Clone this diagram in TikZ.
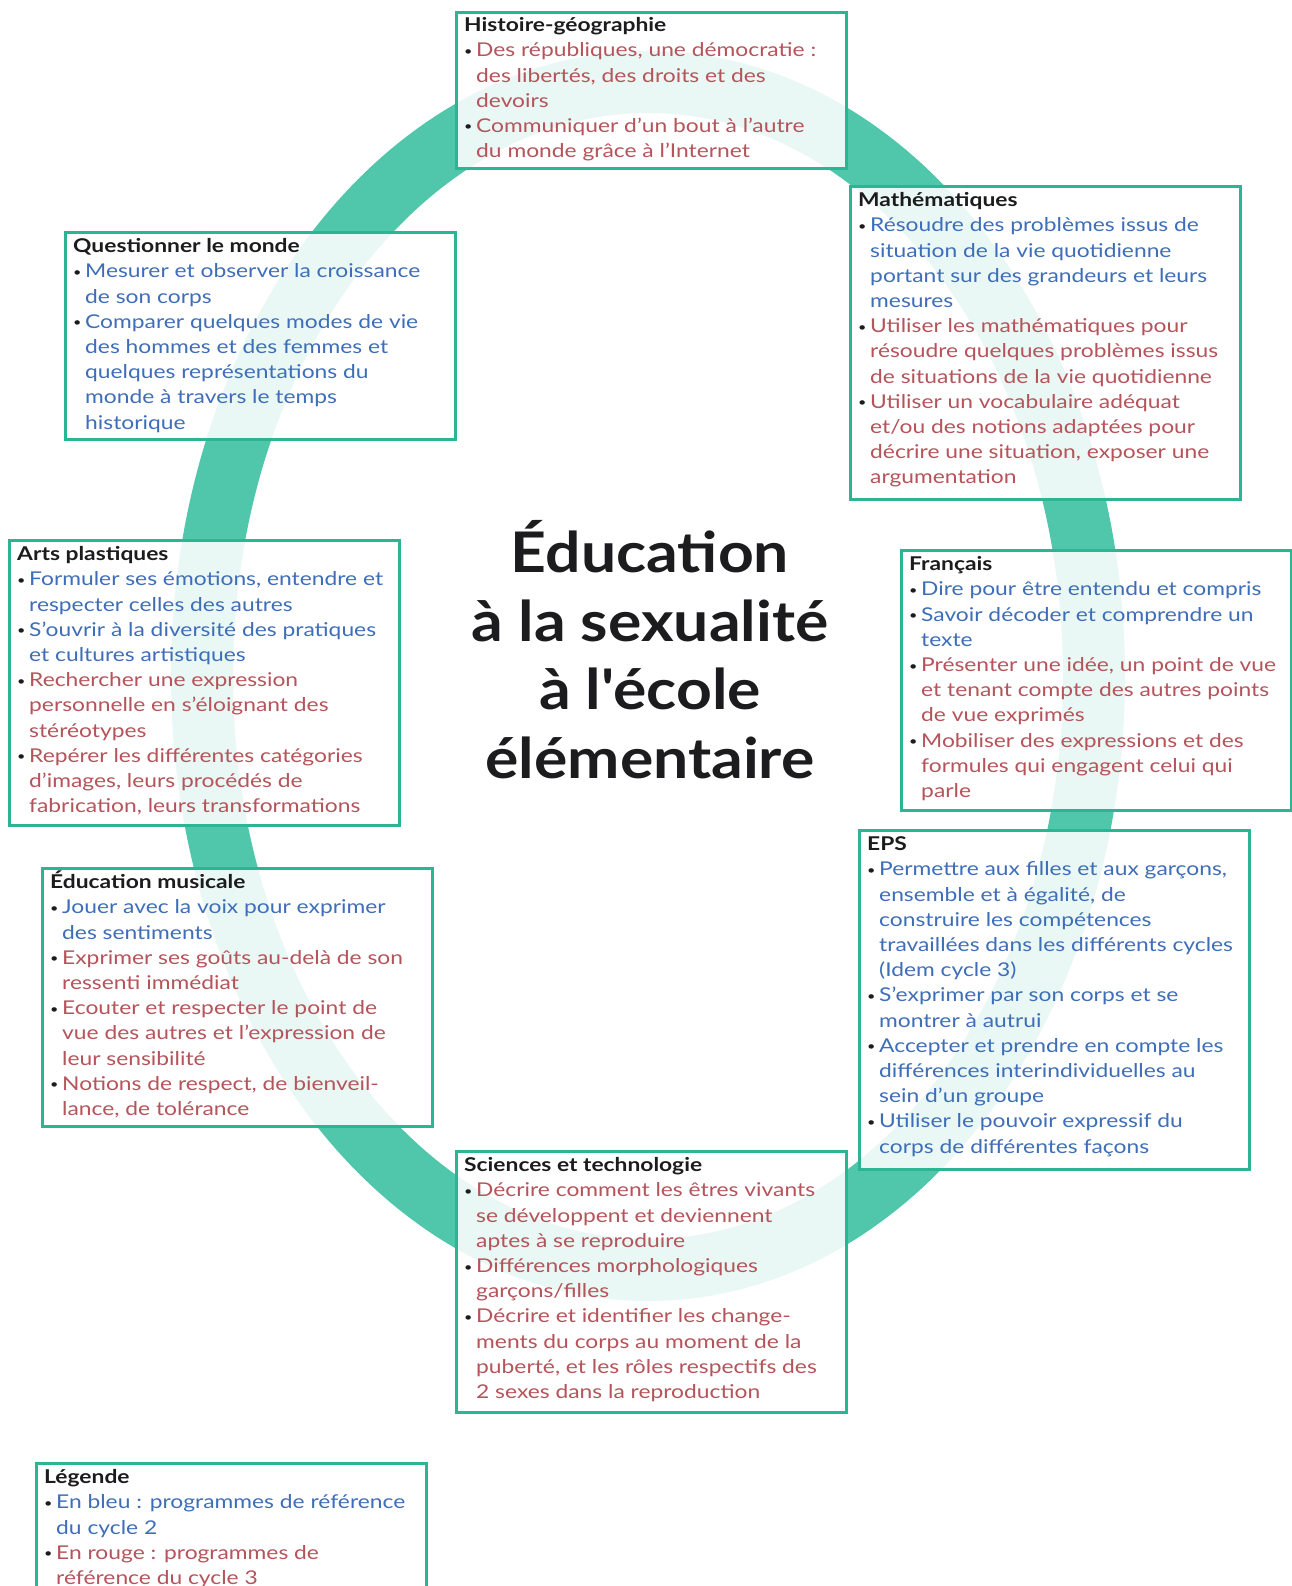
\documentclass[tikz,border=0pt]{standalone}
\usepackage{fontspec}
\setmainfont[FakeStretch=1.2]{Lato}
\newfontfamily\titlefont[FakeStretch=1.115]{Lato}
\definecolor{ringc}{RGB}{80,198,170}
\definecolor{boxc}{RGB}{44,181,146}
\definecolor{rd}{RGB}{181,84,90}
\definecolor{bl}{RGB}{63,110,184}
\definecolor{tk}{RGB}{28,28,30}
\newcommand\bu{\makebox[12pt][l]{\raisebox{1.5pt}{\fontsize{12}{12}\selectfont\color{tk}•}}}
\newcommand\ii{\hspace*{12pt}}
\newcommand\R[1]{\textcolor{rd}{#1}}
\newcommand\B[1]{\textcolor{bl}{#1}}
\newcommand\hd[1]{\rule{0pt}{18pt}{\bfseries\color{tk}#1}}
\tikzset{
  box/.style={draw=boxc, line width=2.6pt, fill=white, fill opacity=0.88, anchor=north west, minimum width=390pt, inner sep=0pt},
  txt/.style={anchor=north west, inner sep=0pt, align=left, font=\fontsize{19}{25.2}\selectfont},
}
\begin{document}
\begin{tikzpicture}[x=1pt,y=-1pt]
\useasboundingbox (0,0) rectangle (1291,1586);
\draw[ringc, line width=62pt] (648,676) ellipse [x radius=446pt, y radius=594pt];

\node[box, minimum height=156pt] (hist) at (455,11) {};
\node[box, minimum height=313pt] (math) at (849,185) {};
\node[box, minimum height=207pt] (qlm) at (64,231) {};
\node[box, minimum height=285pt] (arts) at (8,539) {};
\node[box, minimum height=260pt] (fr) at (900,549) {};
\node[box, minimum height=258pt] (mus) at (41,867) {};
\node[box, minimum height=339pt] (eps) at (858,829) {};
\node[box, minimum height=261pt] (sci) at (455,1150) {};
\node[box, minimum height=150pt] (leg) at (35,1462) {};

\node[txt] (histT) at ([xshift=9pt,yshift=-2.5pt]hist.north west) {\hd{Histoire-géographie}\\
\bu\R{Des républiques, une démocratie :}\\
\ii\R{des libertés, des droits et des}\\
\ii\R{devoirs}\\
\bu\R{Communiquer d’un bout à l’autre}\\
\ii\R{du monde grâce à l’Internet}};

\node[txt] (mathT) at ([xshift=9pt,yshift=-3.5pt]math.north west) {\hd{Mathématiques}\\
\bu\B{Résoudre des problèmes issus de}\\
\ii\B{situation de la vie quotidienne}\\
\ii\B{portant sur des grandeurs et leurs}\\
\ii\B{mesures}\\
\bu\R{Utiliser les mathématiques pour}\\
\ii\R{résoudre quelques problèmes issus}\\
\ii\R{de situations de la vie quotidienne}\\
\bu\R{Utiliser un vocabulaire adéquat}\\
\ii\R{et/ou des notions adaptées pour}\\
\ii\R{décrire une situation, exposer une}\\
\ii\R{argumentation}};

\node[txt] (qlmT) at ([xshift=9pt,yshift=-3.5pt]qlm.north west) {\hd{Questionner le monde}\\
\bu\B{Mesurer et observer la croissance}\\
\ii\B{de son corps}\\
\bu\B{Comparer quelques modes de vie}\\
\ii\B{des hommes et des femmes et}\\
\ii\B{quelques représentations du}\\
\ii\B{monde à travers le temps}\\
\ii\B{historique}};

\node[txt] (artsT) at ([xshift=9pt,yshift=-3.5pt]arts.north west) {\hd{Arts plastiques}\\
\bu\B{Formuler ses émotions, entendre et}\\
\ii\B{respecter celles des autres}\\
\bu\B{S’ouvrir à la diversité des pratiques}\\
\ii\B{et cultures artistiques}\\
\bu\R{Rechercher une expression}\\
\ii\R{personnelle en s’éloignant des}\\
\ii\R{stéréotypes}\\
\bu\R{Repérer les différentes catégories}\\
\ii\R{d’images, leurs procédés de}\\
\ii\R{fabrication, leurs transformations}};

\node[txt] (frT) at ([xshift=9pt,yshift=-3.5pt]fr.north west) {\hd{Français}\\
\bu\B{Dire pour être entendu et compris}\\
\bu\B{Savoir décoder et comprendre un}\\
\ii\B{texte}\\
\bu\R{Présenter une idée, un point de vue}\\
\ii\R{et tenant compte des autres points}\\
\ii\R{de vue exprimés}\\
\bu\R{Mobiliser des expressions et des}\\
\ii\R{formules qui engagent celui qui}\\
\ii\R{parle}};

\node[txt] (musT) at ([xshift=9pt,yshift=-3.5pt]mus.north west) {\hd{Éducation musicale}\\
\bu\B{Jouer avec la voix pour exprimer}\\
\ii\B{des sentiments}\\
\bu\R{Exprimer ses goûts au-delà de son}\\
\ii\R{ressenti immédiat}\\
\bu\R{Ecouter et respecter le point de}\\
\ii\R{vue des autres et l’expression de}\\
\ii\R{leur sensibilité}\\
\bu\R{Notions de respect, de bienveil-}\\
\ii\R{lance, de tolérance}};

\node[txt] (epsT) at ([xshift=9pt,yshift=-3.5pt]eps.north west) {\hd{EPS}\\
\bu\B{Permettre aux filles et aux garçons,}\\
\ii\B{ensemble et à égalité, de}\\
\ii\B{construire les compétences}\\
\ii\B{travaillées dans les différents cycles}\\
\ii\B{(Idem cycle 3)}\\
\bu\B{S’exprimer par son corps et se}\\
\ii\B{montrer à autrui}\\
\bu\B{Accepter et prendre en compte les}\\
\ii\B{différences interindividuelles au}\\
\ii\B{sein d’un groupe}\\
\bu\B{Utiliser le pouvoir expressif du}\\
\ii\B{corps de différentes façons}};

\node[txt] (sciT) at ([xshift=9pt,yshift=-3.5pt]sci.north west) {\hd{Sciences et technologie}\\
\bu\R{Décrire comment les êtres vivants}\\
\ii\R{se développent et deviennent}\\
\ii\R{aptes à se reproduire}\\
\bu\R{Différences morphologiques}\\
\ii\R{garçons/filles}\\
\bu\R{Décrire et identifier les change-}\\
\ii\R{ments du corps au moment de la}\\
\ii\R{puberté, et les rôles respectifs des}\\
\ii\R{2 sexes dans la reproduction}};

\node[txt] (legT) at ([xshift=9pt,yshift=-3.5pt]leg.north west) {\hd{Légende}\\
\bu\B{En bleu : programmes de référence}\\
\ii\B{du cycle 2}\\
\bu\R{En rouge : programmes de}\\
\ii\R{référence du cycle 3}};

\node[anchor=north, inner sep=0pt, align=center, font=\titlefont\fontsize{56}{68.8}\selectfont\bfseries, text=tk] (title) at (650,516) {\rule{0pt}{56pt}Éducation\\à la sexualité\\à l'école\\élémentaire};
\end{tikzpicture}
\end{document}
